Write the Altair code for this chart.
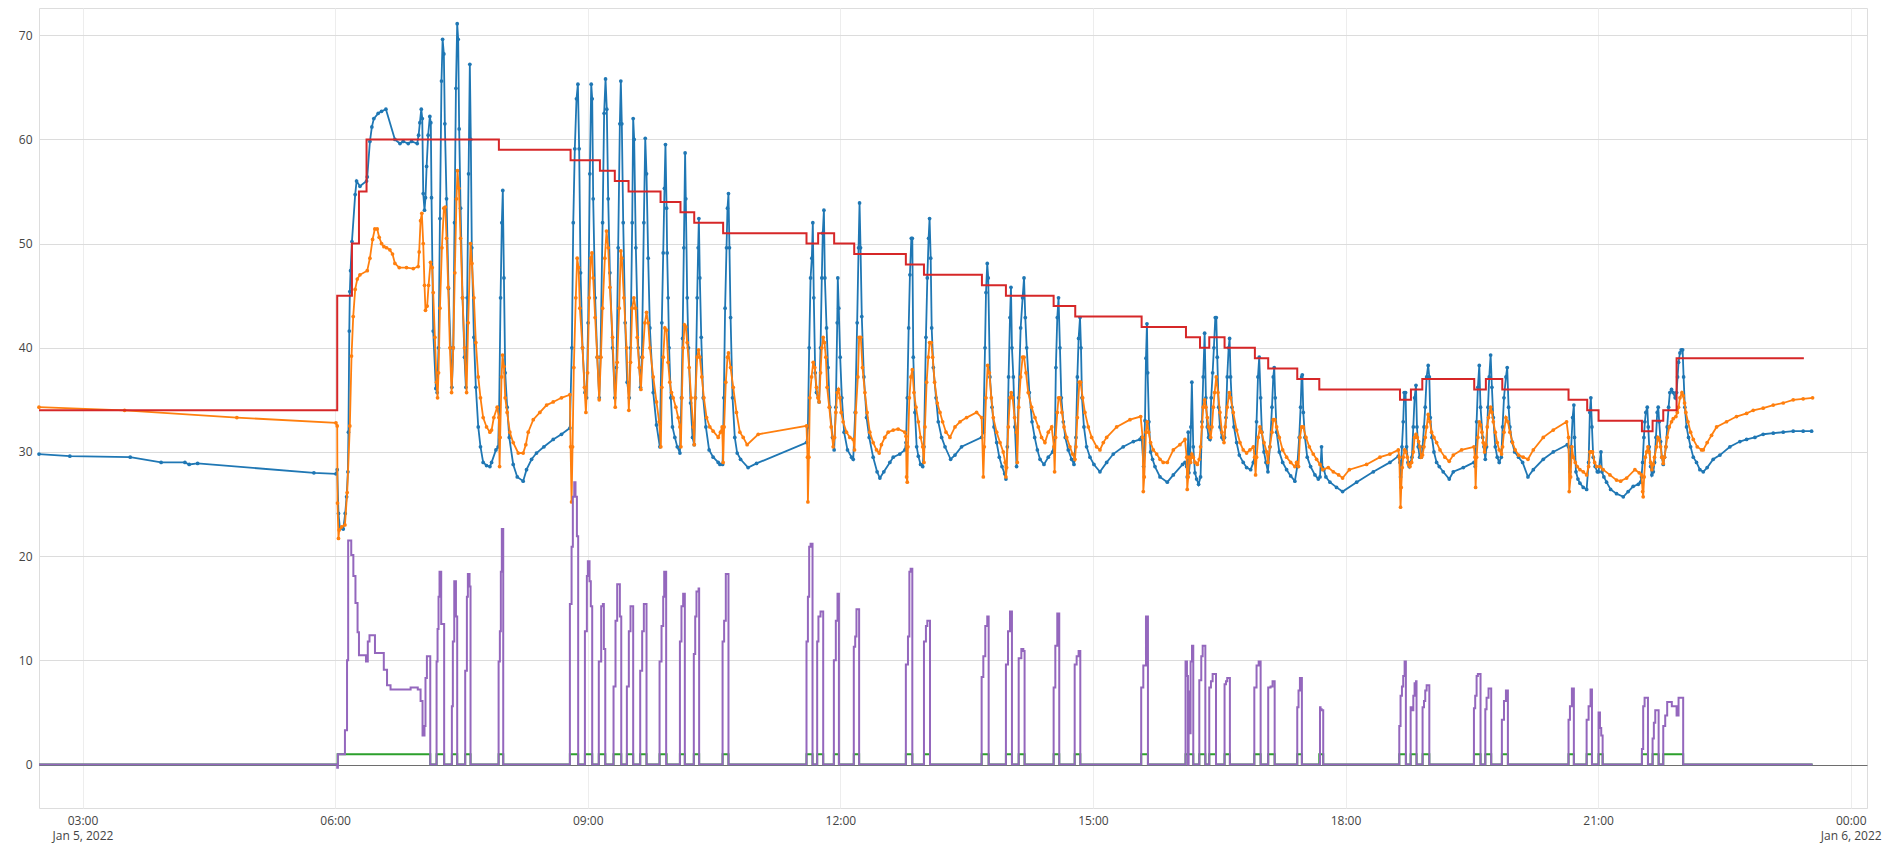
import pandas as pd
import altair as alt

# Times are minutes after midnight, Jan 5 2022.
BASE = pd.Timestamp("2022-01-05")

# Blue series (lines + markers)
BLUE = [
    (149, 29.8), (171, 29.6), (214, 29.5), (236, 29.0), (253, 29.0), (256, 28.8), (262, 28.9),
    (344.9, 28.0), (360.6, 27.9), (361.5, 28.3), (362.4, 24.1), (363.4, 22.7), (365.8, 22.6),
    (367.2, 24.1), (368.2, 25.7), (369.1, 28.1), (369.5, 31.9), (370.1, 41.6), (370.5, 45.4),
    (371.0, 47.4), (372.0, 50.2), (374.3, 54.7), (375.3, 56.0), (377.7, 55.5), (382.4, 56.0),
    (382.9, 56.4), (384.8, 59.8), (386.2, 61.2), (387.6, 62.0), (390.7, 62.5), (393.1, 62.7),
    (396.2, 62.9), (402.6, 60.0), (406.2, 59.6), (408.5, 59.8), (412.1, 59.6), (414.5, 59.8),
    (418.5, 59.6), (419.5, 60.4), (420.4, 61.6), (421.4, 62.9), (422.1, 62.0), (422.8, 54.8),
    (423.7, 53.2), (424.4, 54.4), (425.2, 57.4), (426.3, 60.4), (427.5, 62.2), (428.2, 61.6),
    (428.7, 54.4), (429.9, 41.6), (431.8, 36.1), (432.7, 35.7), (433.7, 40.0), (434.7, 52.4),
    (435.8, 65.6), (436.6, 69.6), (437.5, 68.2), (438.2, 61.5), (439.4, 54.3), (440.8, 45.7),
    (442.3, 40.0), (443.2, 36.2), (444.2, 40.0), (445.1, 52.0), (446.1, 64.9), (447.0, 71.1),
    (447.7, 69.6), (448.4, 61.0), (449.4, 53.4), (450.8, 44.8), (452.2, 39.1), (453.2, 36.2),
    (454.1, 44.8), (455.1, 56.7), (456.0, 67.2), (456.7, 60.0), (457.4, 49.6), (458.9, 41.0),
    (460.3, 36.2), (462.0, 32.4), (463.6, 30.5), (465.5, 29.0), (467.9, 28.7), (470.3, 28.6),
    (471.5, 29.0), (474.6, 30.2), (476.2, 30.5), (476.9, 34.3), (477.9, 44.8), (478.8, 52.0),
    (479.5, 55.1), (480.3, 46.7), (481.2, 37.6), (482.6, 34.3), (484.1, 31.4), (486.9, 28.8),
    (489.8, 27.6), (494.0, 27.2), (496.4, 28.3), (500.0, 29.3), (503.5, 29.9), (508.8, 30.5),
    (515.4, 31.2), (521.3, 31.7), (527.3, 32.3), (528.7, 40.0), (529.7, 52.0), (530.8, 59.1),
    (532.0, 63.9), (533.0, 65.3), (533.9, 59.1), (534.9, 47.2), (536.3, 40.0), (538.0, 35.7),
    (539.2, 35.2), (540.3, 42.4), (541.5, 56.7), (542.5, 65.3), (543.2, 63.9), (543.9, 54.3),
    (545.3, 44.8), (546.8, 39.1), (548.2, 35.2), (549.1, 39.1), (550.6, 52.0), (551.7, 62.5),
    (552.7, 65.8), (553.6, 62.9), (554.6, 54.3), (555.8, 47.2), (557.7, 40.0), (559.3, 35.2),
    (560.5, 38.1), (561.7, 49.6), (562.9, 61.5), (563.6, 65.6), (564.3, 61.5), (565.3, 52.0),
    (566.7, 42.4), (568.1, 36.7), (569.6, 35.2), (570.5, 40.0), (571.7, 52.0), (572.4, 62.0),
    (573.1, 60.0), (574.3, 49.6), (576.0, 40.0), (577.6, 36.2), (578.6, 39.1), (580.0, 52.0),
    (581.0, 60.1), (581.9, 56.7), (583.1, 48.6), (584.3, 41.9), (586.7, 35.7), (589.0, 32.6),
    (591.4, 30.5), (592.8, 42.4), (593.8, 49.1), (594.7, 55.3), (595.4, 59.5), (596.2, 53.4),
    (596.6, 49.1), (597.3, 44.8), (598.0, 40.0), (599.2, 35.2), (600.4, 32.4), (602.1, 31.4),
    (603.8, 30.5), (605.7, 29.9), (606.8, 35.2), (607.6, 40.9), (608.5, 49.6), (609.4, 58.7),
    (609.9, 54.3), (610.9, 44.8), (611.8, 40.0), (613.3, 34.7), (614.7, 31.4), (615.9, 30.7),
    (616.8, 35.2), (618.0, 44.8), (618.7, 49.6), (619.2, 52.4), (619.9, 46.7), (620.9, 41.0),
    (622.3, 35.2), (624.2, 32.4), (626.5, 30.2), (629.4, 29.5), (633.0, 29.0), (634.2, 28.8),
    (636.1, 28.8), (637.0, 35.2), (637.9, 43.8), (638.9, 49.6), (639.6, 53.4), (640.3, 54.8),
    (641.0, 49.6), (641.8, 42.9), (643.2, 35.2), (644.8, 31.4), (646.5, 29.9), (648.9, 29.3),
    (654.3, 28.5), (660.3, 28.9), (695.9, 30.9), (696.9, 32.4), (697.8, 40.0), (698.8, 46.7),
    (699.7, 48.6), (700.4, 52.0), (701.1, 44.8), (702.1, 37.6), (703.0, 35.7), (704.9, 34.8),
    (705.9, 40.0), (706.8, 46.7), (707.5, 51.0), (708.3, 53.2), (709.0, 46.7), (710.2, 41.9),
    (711.3, 38.1), (712.5, 34.3), (714.4, 31.4), (715.6, 30.2), (716.8, 34.3), (717.8, 42.4),
    (718.2, 46.7), (718.9, 43.8), (719.9, 39.1), (721.1, 35.2), (722.7, 31.9), (725.1, 30.2),
    (728.0, 29.5), (729.2, 29.3), (730.6, 33.8), (732.0, 42.4), (733.0, 49.6), (733.7, 53.9),
    (734.4, 49.6), (735.3, 43.0), (736.8, 37.2), (738.7, 33.3), (740.6, 31.4), (743.4, 29.5),
    (746.2, 28.1), (748.2, 27.5), (751.0, 28.1), (755.3, 29.0), (757.7, 29.5), (762.4, 29.8),
    (766.0, 30.2), (766.8, 30.9), (767.7, 35.2), (768.7, 41.9), (769.6, 47.0), (770.6, 50.5),
    (771.3, 50.5), (772.0, 39.1), (773.2, 33.8), (774.4, 30.5), (775.6, 29.6), (777.2, 28.8),
    (778.7, 28.6), (779.6, 30.5), (781.0, 41.0), (782.0, 46.7), (782.9, 50.5), (783.6, 52.4),
    (784.4, 48.6), (785.1, 41.9), (786.3, 38.1), (788.2, 35.2), (789.8, 32.9), (792.2, 31.4),
    (794.6, 30.5), (798.6, 29.3), (801.7, 29.7), (806.4, 30.5), (820.7, 31.4), (821.9, 31.9),
    (823.1, 40.0), (823.8, 45.3), (824.7, 48.1), (825.4, 46.7), (826.6, 37.2), (828.1, 34.3),
    (829.5, 32.4), (831.4, 30.9), (833.3, 29.5), (835.2, 28.6), (837.1, 27.9), (838.0, 27.4),
    (839.0, 30.5), (839.9, 37.2), (840.9, 42.9), (841.6, 45.8), (842.3, 40.0), (843.3, 37.2),
    (844.4, 32.4), (845.6, 28.6), (847.0, 35.2), (848.5, 41.9), (849.9, 44.8), (850.9, 46.7),
    (851.8, 42.9), (852.8, 40.0), (854.7, 35.7), (856.6, 32.9), (858.5, 31.4), (860.4, 30.2),
    (862.3, 29.3), (865.1, 28.8), (868.2, 29.5), (871.3, 30.0), (872.9, 31.4), (873.6, 38.1),
    (874.6, 42.9), (875.5, 44.8), (876.5, 40.0), (877.5, 35.2), (878.9, 32.9), (880.3, 31.4),
    (882.4, 30.2), (884.8, 29.3), (886.5, 28.8), (887.9, 31.4), (888.9, 37.2), (889.8, 40.9),
    (890.8, 42.9), (891.5, 40.0), (892.2, 35.2), (893.6, 32.4), (895.5, 30.5), (897.9, 29.5),
    (900.7, 28.8), (905.0, 28.1), (909.8, 29.0), (914.5, 29.8), (921.6, 30.5), (928.8, 31.0),
    (933.5, 31.2), (934.7, 31.4), (936.1, 28.6), (937.1, 33.0), (937.8, 39.0), (938.5, 42.3),
    (939.0, 37.6), (939.9, 32.9), (941.1, 30.0), (942.5, 29.3), (944.2, 28.6), (947.8, 27.6),
    (953.0, 27.1), (957.3, 27.8), (963.9, 28.8), (965.6, 29.0), (966.8, 28.6), (967.2, 27.6),
    (967.9, 31.9), (968.4, 28.0), (969.1, 29.0), (969.8, 32.4), (970.5, 36.7), (971.5, 30.5),
    (972.7, 28.0), (973.9, 27.4), (975.3, 26.9), (976.7, 27.6), (977.7, 32.9), (978.6, 37.2),
    (979.6, 41.4), (980.5, 35.2), (981.5, 32.4), (982.4, 31.4), (983.4, 31.2), (984.3, 35.2),
    (985.3, 37.6), (986.2, 40.0), (987.2, 42.9), (987.9, 42.9), (988.6, 39.1), (989.6, 34.3),
    (990.5, 32.4), (991.9, 31.4), (992.9, 31.2), (993.8, 31.4), (994.8, 33.3), (995.7, 37.2),
    (996.7, 40.0), (997.4, 40.9), (998.1, 37.2), (999.1, 34.3), (1000.5, 32.4), (1002.4, 30.9),
    (1004.3, 29.7), (1007.1, 29.0), (1009.5, 28.5), (1012.4, 28.3), (1014.3, 29.0), (1015.7, 29.9),
    (1016.6, 32.9), (1017.6, 37.2), (1018.5, 39.1), (1019.5, 35.2), (1020.4, 31.9), (1021.9, 30.0),
    (1023.3, 29.0), (1024.7, 28.1), (1026.1, 30.5), (1027.6, 34.3), (1028.5, 37.2), (1029.2, 38.1),
    (1029.9, 35.2), (1030.9, 31.9), (1032.8, 30.0), (1035.2, 29.0), (1038.0, 28.3), (1040.9, 27.7),
    (1043.9, 27.2), (1045.6, 28.6), (1047.0, 31.4), (1048.0, 34.3), (1048.7, 37.2), (1049.2, 37.4),
    (1049.9, 33.8), (1051.1, 31.4), (1052.7, 29.5), (1055.1, 28.6), (1058.2, 27.8), (1060.6, 27.4),
    (1061.8, 27.6), (1062.9, 30.5), (1063.6, 28.5), (1064.6, 28.3), (1066.0, 27.6), (1068.9, 27.1),
    (1073.6, 26.6), (1077.9, 26.2), (1087.9, 27.1), (1099.8, 28.1), (1111.6, 29.0), (1117.6, 29.6),
    (1118.8, 29.0), (1119.2, 27.6), (1120.2, 30.5), (1121.1, 32.9), (1121.8, 35.7), (1122.8, 35.7),
    (1123.5, 30.5), (1124.5, 29.0), (1125.4, 28.6), (1126.4, 29.0), (1127.3, 29.5), (1128.3, 32.4),
    (1129.2, 35.2), (1130.2, 36.4), (1130.9, 32.4), (1131.8, 30.5), (1132.8, 29.5), (1134.0, 29.5),
    (1134.9, 30.5), (1135.9, 32.4), (1136.8, 34.3), (1137.8, 37.2), (1138.9, 38.3), (1139.7, 37.2),
    (1140.4, 33.3), (1141.6, 31.4), (1143.0, 30.0), (1144.9, 29.0), (1146.8, 28.6), (1149.6, 28.1),
    (1153.9, 27.4), (1156.8, 28.1), (1163.9, 28.5), (1171.5, 29.0), (1172.4, 28.6), (1173.4, 32.9),
    (1174.3, 36.2), (1175.3, 38.3), (1176.2, 34.3), (1177.7, 31.4), (1178.6, 30.5), (1179.6, 29.3),
    (1180.5, 30.5), (1181.5, 34.3), (1182.4, 37.2), (1183.4, 39.3), (1184.3, 36.2), (1185.3, 33.3),
    (1186.7, 30.5), (1188.1, 29.5), (1189.5, 29.0), (1191.0, 29.5), (1191.9, 32.4), (1192.9, 35.2),
    (1194.3, 37.2), (1195.2, 38.1), (1196.2, 34.3), (1197.1, 32.4), (1198.6, 31.0), (1200.5, 30.0),
    (1203.3, 29.5), (1206.2, 29.0), (1210.0, 27.6), (1213.8, 28.3), (1220.9, 29.3), (1228.0, 30.0),
    (1238.0, 30.7), (1238.9, 30.5), (1239.9, 28.1), (1240.8, 30.5), (1241.8, 33.3), (1242.7, 34.5),
    (1243.2, 31.4), (1244.2, 28.1), (1245.6, 27.4), (1247.0, 27.0), (1249.4, 26.6), (1251.8, 26.4),
    (1253.2, 29.0), (1254.1, 33.8), (1254.8, 35.2), (1255.6, 32.4), (1256.5, 29.5), (1257.9, 28.6),
    (1259.4, 28.1), (1260.3, 28.1), (1262.0, 30.0), (1262.7, 28.1), (1264.1, 27.6), (1266.0, 27.1),
    (1268.9, 26.4), (1273.1, 26.0), (1277.9, 25.7), (1281.4, 26.2), (1285.0, 26.7), (1288.6, 26.9),
    (1290.2, 27.1), (1290.9, 27.6), (1291.7, 29.0), (1292.6, 31.4), (1293.3, 32.9), (1294.0, 33.8),
    (1295.0, 34.3), (1295.7, 32.4), (1296.4, 30.5), (1297.4, 28.6), (1298.3, 27.8), (1299.3, 28.1),
    (1300.2, 29.0), (1301.2, 31.4), (1302.1, 33.8), (1302.8, 34.3), (1303.5, 32.9), (1304.5, 31.0),
    (1305.4, 29.5), (1306.4, 28.8), (1307.3, 29.5), (1308.3, 30.5), (1309.2, 32.4), (1310.2, 34.3),
    (1311.1, 35.7), (1312.3, 36.0), (1313.5, 35.7), (1314.9, 35.2), (1315.9, 35.7), (1316.6, 37.2),
    (1317.3, 38.6), (1318.3, 39.5), (1319.2, 39.8), (1320.2, 39.8), (1320.9, 37.2), (1321.8, 34.3),
    (1323.0, 32.4), (1324.4, 31.4), (1325.9, 30.5), (1327.8, 29.5), (1330.1, 29.0), (1332.5, 28.3),
    (1334.9, 28.1), (1337.7, 28.5), (1342.0, 29.3), (1346.8, 29.7), (1353.9, 30.5), (1361.0, 31.0),
    (1365.8, 31.2), (1371.7, 31.4), (1377.6, 31.7), (1384.8, 31.8), (1391.9, 31.9), (1399.0, 32.0),
    (1406.1, 32.0), (1412.1, 32.0),
]

# Orange series (lines + markers)
ORANGE = [
    (149, 34.3), (210, 34.0), (290, 33.3), (360.6, 32.8), (361.5, 32.5), (361.7, 25.1),
    (362.4, 21.7), (362.9, 22.5), (364.6, 22.8), (367.0, 23.0), (368.6, 26.1), (370.5, 32.5),
    (371.7, 39.2), (372.9, 43.0), (374.3, 45.6), (375.8, 46.6), (377.7, 47.0), (382.9, 47.4),
    (384.8, 48.6), (386.7, 50.4), (388.3, 51.4), (390.0, 51.4), (391.4, 50.6), (393.1, 50.0),
    (394.8, 49.7), (396.7, 49.6), (399.0, 49.4), (400.9, 49.0), (402.6, 48.1), (405.7, 47.7),
    (410.9, 47.7), (415.7, 47.6), (419.2, 47.8), (419.9, 49.2), (420.9, 52.2), (421.8, 52.9),
    (422.8, 50.0), (423.7, 46.0), (424.4, 43.6), (425.6, 44.0), (426.6, 46.0), (428.0, 48.2),
    (429.2, 47.7), (429.9, 45.3), (431.1, 41.0), (432.3, 36.7), (433.0, 35.2), (433.7, 37.6),
    (434.7, 43.8), (436.1, 49.6), (437.5, 53.4), (438.5, 53.5), (439.4, 50.5), (440.6, 45.8),
    (441.8, 40.0), (443.0, 35.7), (444.2, 40.0), (445.3, 47.2), (446.5, 54.3), (447.2, 57.0),
    (448.2, 55.3), (449.4, 50.5), (450.8, 44.8), (452.2, 40.0), (453.7, 35.7), (454.8, 42.4),
    (456.5, 50.0), (457.5, 48.1), (458.9, 44.8), (460.3, 40.5), (462.0, 37.2), (463.6, 35.2),
    (465.5, 33.3), (467.9, 32.4), (470.3, 31.9), (471.5, 32.1), (473.1, 33.3), (475.5, 34.3),
    (476.7, 33.3), (477.2, 28.6), (477.6, 31.4), (478.6, 37.2), (479.3, 39.3), (480.3, 38.2),
    (481.2, 35.2), (482.6, 33.8), (484.5, 31.9), (486.9, 30.9), (490.5, 29.9), (494.0, 29.9),
    (495.9, 30.7), (497.6, 31.9), (501.2, 33.1), (505.9, 33.8), (510.7, 34.5), (515.4, 34.8),
    (521.3, 35.2), (527.3, 35.5), (527.8, 30.5), (528.5, 25.2), (529.2, 30.5), (530.1, 38.1),
    (531.5, 44.8), (532.5, 48.6), (533.5, 47.7), (534.4, 43.8), (536.3, 40.0), (537.7, 36.2),
    (538.7, 33.8), (539.9, 37.6), (541.1, 44.8), (542.2, 48.6), (543.0, 49.1), (543.9, 46.7),
    (545.3, 42.9), (546.8, 39.1), (548.2, 35.0), (549.4, 39.1), (550.6, 43.8), (552.2, 48.6),
    (553.4, 51.2), (554.6, 49.6), (555.8, 45.8), (557.7, 41.0), (559.6, 34.3), (561.0, 38.6),
    (562.4, 43.8), (563.6, 49.3), (564.3, 48.6), (565.8, 44.8), (567.7, 40.0), (569.3, 34.0),
    (570.5, 38.6), (571.7, 43.8), (572.9, 44.8), (574.1, 43.8), (575.3, 41.0), (576.7, 38.1),
    (577.9, 36.0), (579.1, 39.1), (580.7, 42.4), (581.9, 43.4), (583.1, 42.4), (584.3, 40.0),
    (586.7, 37.2), (589.0, 34.8), (590.9, 32.9), (592.1, 30.5), (592.8, 36.2), (593.8, 39.1),
    (595.0, 41.9), (596.2, 41.7), (597.3, 38.6), (598.5, 36.7), (599.7, 35.7), (600.9, 35.2),
    (602.8, 34.3), (604.5, 33.3), (605.7, 32.4), (606.4, 30.5), (607.1, 35.2), (608.0, 40.0),
    (609.0, 42.2), (609.9, 42.0), (610.9, 40.5), (612.3, 38.1), (613.7, 35.2), (615.2, 32.4),
    (615.9, 30.7), (616.6, 35.2), (618.0, 39.1), (619.0, 39.8), (619.9, 39.1), (621.3, 37.2),
    (622.8, 35.2), (624.7, 33.3), (627.0, 32.4), (629.4, 32.0), (633.0, 31.4), (634.6, 31.9),
    (635.8, 32.4), (636.5, 29.0), (637.2, 32.4), (638.4, 36.7), (639.6, 39.1), (640.3, 39.5),
    (641.8, 38.1), (643.7, 36.2), (646.0, 33.8), (648.4, 31.9), (650.8, 31.4), (653.6, 30.7),
    (661.5, 31.7), (695.9, 32.5), (696.6, 29.5), (696.9, 25.2), (697.6, 29.5), (698.3, 35.2),
    (699.5, 37.2), (700.7, 38.6), (701.8, 38.1), (703.0, 36.2), (704.0, 35.2), (704.9, 34.8),
    (705.9, 37.6), (706.8, 40.0), (707.8, 41.0), (708.7, 40.5), (709.7, 39.1), (710.6, 36.2),
    (712.1, 34.3), (713.5, 32.4), (714.9, 30.5), (715.9, 31.4), (716.8, 33.8), (717.8, 35.7),
    (718.7, 36.0), (719.7, 35.2), (720.6, 33.8), (722.0, 32.9), (724.4, 31.9), (726.8, 31.4),
    (729.2, 31.2), (730.1, 30.2), (731.0, 33.8), (732.5, 37.2), (733.4, 41.0), (734.6, 41.0),
    (735.8, 38.1), (737.5, 35.7), (739.1, 33.8), (741.0, 31.9), (743.4, 30.9), (745.8, 30.2),
    (747.7, 29.9), (749.3, 30.7), (751.7, 31.4), (754.1, 31.9), (757.7, 32.1), (761.2, 32.2),
    (766.0, 31.9), (766.8, 31.5), (767.2, 27.6), (767.7, 27.1), (768.2, 30.5), (769.2, 35.2),
    (770.3, 37.2), (771.3, 37.9), (772.5, 35.7), (773.9, 34.3), (775.6, 32.9), (777.2, 31.4),
    (778.7, 30.5), (779.6, 29.0), (780.3, 32.4), (781.5, 36.7), (782.7, 39.1), (783.6, 40.5),
    (784.8, 40.5), (785.8, 39.1), (787.2, 36.7), (789.1, 34.7), (791.0, 33.8), (792.9, 32.9),
    (795.3, 31.9), (798.1, 31.4), (801.7, 32.4), (805.3, 32.9), (810.0, 33.3), (817.1, 33.8),
    (820.7, 33.3), (821.9, 27.6), (822.6, 30.5), (823.8, 35.2), (825.0, 38.3), (826.2, 37.6),
    (827.6, 35.2), (829.0, 33.3), (831.4, 31.9), (833.8, 30.9), (836.1, 30.0), (837.5, 29.0),
    (838.0, 27.6), (838.5, 28.5), (839.7, 32.4), (840.9, 35.2), (841.8, 35.7), (842.8, 35.2),
    (844.2, 33.3), (845.6, 31.9), (846.1, 29.0), (847.1, 34.3), (848.5, 37.2), (849.9, 39.1),
    (850.9, 39.1), (852.3, 37.6), (853.9, 35.7), (856.3, 34.3), (858.7, 33.3), (861.1, 32.4),
    (863.4, 31.4), (865.8, 30.9), (868.2, 31.9), (870.6, 32.4), (872.2, 30.5), (872.7, 28.1),
    (873.4, 31.4), (874.6, 33.8), (875.5, 35.2), (876.5, 35.2), (877.9, 33.8), (879.4, 32.4),
    (881.3, 31.4), (883.6, 30.5), (885.5, 29.8), (887.2, 29.3), (887.9, 30.5), (888.9, 33.3),
    (890.3, 36.7), (891.2, 36.7), (892.7, 35.2), (894.3, 33.8), (896.7, 32.4), (899.1, 31.4),
    (902.6, 30.5), (905.0, 30.2), (907.4, 30.9), (909.8, 31.4), (916.9, 32.4), (926.4, 33.1),
    (934.0, 33.4), (935.4, 31.4), (935.9, 26.2), (936.6, 27.6), (937.8, 31.9), (938.7, 32.9),
    (939.7, 31.9), (941.1, 30.9), (943.0, 30.2), (945.4, 29.8), (947.8, 29.3), (950.1, 29.0),
    (953.0, 29.0), (957.3, 30.2), (962.0, 30.7), (965.6, 31.2), (966.8, 29.5), (967.2, 26.4),
    (967.9, 27.6), (968.6, 29.5), (969.6, 29.0), (970.5, 29.8), (971.5, 29.5), (972.9, 29.0),
    (974.4, 28.8), (975.8, 29.3), (976.7, 30.5), (977.7, 32.4), (978.6, 34.3), (979.6, 35.0),
    (980.5, 34.3), (981.5, 33.3), (982.4, 32.4), (983.9, 31.4), (984.8, 32.4), (985.8, 34.3),
    (986.7, 35.7), (987.9, 37.2), (989.1, 35.7), (990.5, 33.8), (991.9, 31.9), (993.4, 30.9),
    (994.3, 32.4), (995.7, 34.3), (997.2, 35.7), (998.1, 35.2), (1000.0, 33.8), (1002.4, 32.1),
    (1004.8, 30.9), (1007.1, 30.2), (1009.5, 29.9), (1011.9, 30.2), (1014.3, 30.5), (1015.2, 29.5),
    (1015.9, 27.8), (1016.6, 29.5), (1017.8, 31.4), (1019.0, 32.4), (1020.2, 31.9), (1021.9, 30.9),
    (1023.8, 30.0), (1024.7, 29.0), (1026.1, 30.5), (1027.6, 31.9), (1028.5, 33.1), (1029.7, 33.1),
    (1030.9, 32.4), (1032.8, 31.4), (1035.2, 30.2), (1038.0, 29.5), (1040.9, 29.0), (1043.9, 28.6),
    (1045.1, 29.0), (1046.5, 28.6), (1047.5, 31.4), (1048.7, 32.4), (1049.9, 32.4), (1051.8, 31.4),
    (1054.2, 30.5), (1057.0, 29.8), (1059.4, 29.3), (1061.8, 28.8), (1063.7, 28.3), (1067.7, 28.5),
    (1071.3, 28.1), (1075.1, 27.8), (1077.9, 27.5), (1082.7, 28.3), (1095.0, 28.8), (1104.5, 29.5),
    (1111.6, 29.8), (1117.6, 30.2), (1118.3, 29.5), (1119.2, 24.7), (1119.7, 26.6), (1120.4, 28.5),
    (1121.1, 29.5), (1122.1, 30.2), (1123.0, 30.0), (1124.0, 29.5), (1124.9, 28.8), (1125.9, 28.6),
    (1127.1, 29.0), (1128.3, 30.0), (1129.2, 31.4), (1130.2, 31.7), (1131.1, 31.4), (1132.1, 31.0),
    (1133.0, 30.5), (1134.0, 29.5), (1134.9, 29.7), (1135.9, 30.5), (1136.8, 31.4), (1137.8, 32.4),
    (1138.9, 33.6), (1140.1, 32.9), (1141.3, 31.9), (1143.0, 31.4), (1144.9, 30.9), (1147.3, 30.2),
    (1150.8, 29.5), (1153.9, 29.1), (1156.8, 29.7), (1162.7, 30.2), (1171.5, 30.5), (1172.2, 29.5),
    (1172.7, 26.6), (1173.4, 29.5), (1174.3, 31.4), (1175.3, 32.9), (1176.2, 32.6), (1177.2, 31.9),
    (1178.1, 30.9), (1179.1, 30.0), (1180.0, 30.7), (1181.0, 32.4), (1181.9, 33.3), (1183.4, 34.3),
    (1184.3, 33.8), (1185.3, 32.9), (1186.7, 31.9), (1188.1, 30.9), (1189.5, 30.2), (1191.2, 29.8),
    (1191.9, 30.5), (1192.9, 31.9), (1194.3, 33.3), (1195.7, 32.9), (1197.1, 31.9), (1199.0, 30.9),
    (1200.9, 30.2), (1203.3, 29.7), (1206.6, 29.5), (1210.0, 29.3), (1213.8, 30.2), (1220.9, 31.4),
    (1228.0, 32.1), (1237.5, 32.9), (1238.9, 31.4), (1239.4, 26.2), (1240.4, 27.6), (1241.3, 30.5),
    (1242.3, 29.5), (1243.7, 29.0), (1245.1, 28.6), (1247.0, 28.3), (1249.4, 28.1), (1251.8, 27.8),
    (1253.2, 28.6), (1254.1, 30.0), (1255.1, 30.0), (1256.0, 30.0), (1257.5, 29.0), (1258.9, 28.6),
    (1261.3, 28.6), (1263.6, 28.3), (1268.4, 27.8), (1273.1, 27.3), (1276.0, 27.2), (1280.3, 27.5),
    (1286.2, 28.3), (1289.3, 28.0), (1290.9, 27.8), (1291.7, 26.2), (1292.1, 25.7), (1292.8, 27.6),
    (1293.6, 29.5), (1294.5, 30.0), (1295.5, 30.5), (1296.4, 30.0), (1297.4, 29.0), (1298.3, 28.3),
    (1299.3, 28.8), (1300.2, 29.5), (1301.6, 30.5), (1302.6, 31.4), (1303.5, 31.2), (1304.5, 30.5),
    (1305.4, 29.5), (1306.4, 28.9), (1307.3, 29.5), (1308.3, 30.5), (1309.2, 31.4), (1310.7, 32.4),
    (1312.3, 32.9), (1313.5, 33.2), (1315.4, 33.4), (1316.4, 33.8), (1317.3, 34.3), (1318.3, 35.2),
    (1319.7, 35.7), (1320.6, 35.4), (1321.6, 34.7), (1322.5, 33.8), (1324.0, 32.9), (1325.9, 31.9),
    (1327.8, 31.2), (1330.6, 30.5), (1333.7, 30.2), (1334.9, 30.2), (1337.7, 30.9), (1340.8, 31.6),
    (1344.4, 32.4), (1351.5, 32.9), (1358.6, 33.4), (1365.8, 33.7), (1370.5, 34.0), (1377.6, 34.2),
    (1384.8, 34.5), (1391.9, 34.7), (1399.0, 35.0), (1406.1, 35.1), (1412.8, 35.2),
]

# Red setpoint, step changes (minute, new value)
RED = [
    (149, 34), (361.5, 45), (372.0, 50), (377.0, 55), (382.4, 60), (476.7, 59), (527.8, 58),
    (548.7, 57), (559.3, 56), (569.1, 55), (591.9, 54), (606.1, 53), (615.9, 52), (636.5, 51),
    (695.9, 50), (704.2, 51), (715.6, 50), (729.9, 49), (766.7, 48), (779.6, 47), (820.9, 46),
    (838.0, 45), (872.0, 44), (887.4, 43), (934.7, 42), (966.3, 41), (976.3, 40), (982.9, 41),
    (993.8, 40), (1015.4, 39), (1024.9, 38), (1045.6, 37), (1061.3, 36), (1118.8, 35),
    (1126.6, 36), (1134.7, 37), (1171.7, 36), (1180.0, 37), (1191.7, 36), (1238.9, 35),
    (1252.2, 34), (1260.3, 33), (1291.2, 32), (1298.8, 33), (1306.4, 34), (1315.9, 39),
    (1406.6, 39),
]

# Purple series, step changes (minute, new value)
PURPLE = [
    (149, 0), (361.5, -0.3), (362.0, 1.0), (365.5, 1.0), (367.0, 3.3), (368.5, 10.0),
    (369.3, 21.5), (371.5, 20.1), (373.0, 18.1), (374.5, 15.5), (376.0, 12.7), (377.0, 10.5),
    (382.0, 9.9), (383.3, 11.8), (384.5, 12.4), (388.4, 10.7), (394.7, 9.1), (397.0, 7.6),
    (399.5, 7.2), (413.8, 7.4), (418.9, 7.2), (420.9, 6.1), (422.3, 2.8), (423.7, 3.7),
    (424.4, 8.3), (425.4, 10.4), (427.8, 0),
    (432.3, 9.9), (433.0, 13.0), (433.7, 16.1), (434.4, 18.5), (435.6, 13.5), (437.7, 0),
    (443.2, 5.6), (443.9, 11.8), (444.9, 17.6), (446.1, 14.2), (447.0, 0),
    (452.7, 9.0), (453.9, 16.1), (454.6, 18.3), (455.8, 17.1), (456.5, 0),
    (476.5, 9.9), (477.4, 12.8), (478.1, 18.5), (478.8, 22.6), (479.8, 0),
    (527.3, 15.4), (528.5, 20.9), (529.4, 25.7), (530.4, 27.1), (531.3, 25.7), (532.3, 21.9), (533.2, 0),
    (538.0, 12.8), (539.4, 18.1), (540.1, 19.5), (541.3, 17.6), (542.2, 15.2), (543.2, 0),
    (547.9, 9.9), (549.6, 15.2), (550.8, 15.4), (551.5, 11.1), (552.5, 0),
    (558.4, 7.5), (559.8, 13.8), (561.0, 17.3), (562.9, 14.2), (563.9, 0),
    (567.9, 7.5), (569.3, 12.8), (570.5, 15.2), (572.4, 0),
    (577.4, 9.0), (578.8, 12.8), (580.0, 15.4), (581.9, 0),
    (591.2, 9.9), (592.6, 13.3), (593.8, 16.1), (594.5, 18.5), (595.9, 0),
    (605.7, 11.8), (606.8, 15.2), (608.0, 16.4), (609.2, 0),
    (615.6, 10.6), (616.6, 14.2), (617.5, 16.6), (619.0, 16.9), (619.4, 0),
    (636.1, 11.8), (637.2, 13.8), (638.4, 18.3), (640.3, 0),
    (695.9, 11.8), (696.9, 16.1), (697.8, 20.9), (698.8, 21.2), (700.2, 0),
    (703.5, 11.8), (704.4, 14.2), (705.9, 14.7), (707.8, 0),
    (715.4, 10.0), (716.8, 13.8), (718.0, 16.4), (719.0, 0),
    (729.6, 11.3), (730.6, 12.3), (731.5, 14.9), (733.4, 0),
    (766.7, 9.6), (768.2, 12.3), (769.2, 18.5), (770.1, 18.8), (771.3, 0),
    (779.6, 11.8), (781.0, 13.3), (782.0, 13.8), (783.9, 0),
    (820.7, 8.4), (821.9, 10.4), (823.3, 13.3), (824.7, 14.2), (825.7, 0),
    (838.0, 9.6), (839.5, 12.8), (840.9, 14.7), (842.3, 0),
    (847.1, 10.2), (849.0, 11.1), (850.4, 10.9), (851.3, 0),
    (872.0, 7.4), (873.2, 11.4), (874.6, 14.5), (876.0, 0),
    (887.0, 9.6), (888.4, 10.4), (889.8, 10.9), (891.0, 0),
    (934.4, 7.4), (935.9, 9.5), (937.8, 14.2), (939.2, 0),
    (966.0, 9.9), (967.0, 8.5), (967.7, 0), (968.2, 7.0), (968.9, 3.0), (969.6, 9.9), (970.6, 11.4), (971.5, 0),
    (975.8, 8.1), (977.2, 10.4), (978.2, 11.4), (980.1, 0),
    (982.9, 7.4), (984.1, 8.0), (985.3, 8.7), (987.7, 0),
    (993.8, 7.7), (994.8, 8.0), (995.7, 8.3), (997.6, 0),
    (1015.0, 7.4), (1016.6, 9.5), (1018.1, 9.9), (1019.5, 0),
    (1024.9, 7.4), (1026.6, 7.5), (1028.0, 8.0), (1029.5, 0),
    (1045.6, 5.5), (1046.5, 7.1), (1047.5, 8.3), (1048.9, 0),
    (1061.8, 5.5), (1062.2, 5.3), (1063.0, 5.2), (1064.1, 0),
    (1118.3, 3.7), (1119.2, 6.6), (1120.2, 7.5), (1121.1, 8.5), (1122.1, 9.9), (1123.0, 0),
    (1126.4, 5.5), (1127.3, 5.2), (1128.3, 6.6), (1129.2, 7.8), (1130.2, 8.0), (1130.6, 0),
    (1134.9, 5.5), (1135.9, 6.1), (1136.8, 7.1), (1137.8, 7.6), (1139.7, 0),
    (1171.5, 5.4), (1172.4, 6.6), (1173.4, 8.5), (1174.3, 8.7), (1176.2, 0),
    (1179.6, 5.3), (1180.5, 6.4), (1181.9, 7.3), (1183.8, 0),
    (1191.4, 4.3), (1192.9, 6.1), (1194.3, 7.1), (1195.7, 0),
    (1238.9, 4.3), (1239.9, 5.6), (1241.3, 7.3), (1242.7, 0),
    (1251.8, 4.3), (1253.2, 5.6), (1254.6, 7.2), (1255.6, 0),
    (1260.3, 5.0), (1261.3, 3.5), (1262.2, 2.8), (1263.2, 0),
    (1291.2, 1.5), (1292.1, 5.6), (1293.1, 6.4), (1295.5, 0),
    (1298.8, 2.5), (1299.7, 4.0), (1300.7, 5.2), (1303.1, 0),
    (1306.4, 3.7), (1307.8, 4.7), (1309.2, 6.0), (1312.5, 5.6), (1315.9, 4.7), (1317.3, 6.4), (1320.6, 0),
    (1412.8, 0),
]

# Green on/off periods (start minute, end minute) where it sits at 1
GREEN_ON = [
    (361.8, 427.8), (432.3, 437.7), (443.2, 447.0), (452.7, 456.5), (476.5, 479.8),
    (527.3, 533.2), (538.0, 543.2), (547.9, 552.5), (558.4, 563.9), (567.9, 572.4),
    (577.4, 581.9), (591.2, 596.2), (605.7, 609.2), (615.6, 619.4), (636.1, 640.3),
    (695.9, 700.2), (703.5, 707.8), (715.4, 719.0), (729.6, 733.4), (766.7, 771.3),
    (779.6, 783.9), (820.7, 825.7), (838.0, 842.3), (847.1, 851.3), (872.0, 876.0),
    (887.0, 891.0), (934.4, 939.2), (966.0, 971.5), (975.8, 980.1), (982.9, 987.7),
    (993.8, 997.6), (1015.0, 1019.5), (1024.9, 1029.5), (1045.6, 1048.9), (1061.3, 1064.1),
    (1118.3, 1123.0), (1126.4, 1130.6), (1134.9, 1139.7), (1171.5, 1176.2), (1179.6, 1183.8),
    (1191.4, 1195.7), (1238.9, 1242.7), (1251.8, 1255.6), (1260.3, 1263.2), (1291.2, 1295.5),
    (1298.8, 1303.1), (1306.4, 1320.6),
]
GREEN_SPAN = (149, 1412.8)

Y_TICKS = [0, 10, 20, 30, 40, 50, 60, 70]
X_TICK_HOURS = [3, 6, 9, 12, 15, 18, 21, 24]


def frame(points):
    df = pd.DataFrame(points, columns=["minute", "value"])
    df["time"] = BASE + pd.to_timedelta(df["minute"], unit="m")
    return df[["time", "value"]]


green_points = [(GREEN_SPAN[0], 0)]
for start, end in GREEN_ON:
    green_points += [(start, 1), (end, 0)]
green_points.append((GREEN_SPAN[1], 0))

x_ticks = [
    alt.DateTime(year=2022, month=1, date=5 + h // 24, hours=h % 24) for h in X_TICK_HOURS
]

x_enc = alt.X(
    "time:T",
    title=None,
    scale=alt.Scale(domain=[
        alt.DateTime(year=2022, month=1, date=5, hours=2, minutes=29),
        alt.DateTime(year=2022, month=1, date=6, hours=0, minutes=11, seconds=35),
    ]),
    axis=alt.Axis(
        values=x_ticks,
        labelExpr="(hours(datum.value) == 3 || hours(datum.value) == 0) ? "
                  "[timeFormat(datum.value, '%H:%M'), timeFormat(datum.value, '%b %-d, %Y')] : "
                  "timeFormat(datum.value, '%H:%M')",
        grid=True, gridColor="#ededed", gridWidth=1,
        domain=False, ticks=False, tickSize=0,
        labelPadding=7, labelLineHeight=15, labelOverlap=False, labelFlush=False,
        labelFont="Open Sans", labelFontSize=12, labelColor="#444",
    ),
)

y_enc = alt.Y(
    "value:Q",
    title=None,
    scale=alt.Scale(domain=[-4.17, 72.61], nice=False, zero=False),
    axis=alt.Axis(
        values=Y_TICKS,
        grid=True,
        gridColor=alt.condition("datum.value === 0", alt.value("#6e6e6e"), alt.value("#dcdcdc")),
        gridWidth=1,
        domain=False, ticks=False, tickSize=0, labelPadding=7,
        labelFont="Open Sans", labelFontSize=12, labelColor="#444",
    ),
)

marker_line = dict(strokeWidth=1.8)

blue = alt.Chart(frame(BLUE)).mark_line(
    color="#1f77b4", point=alt.OverlayMarkDef(color="#1f77b4", size=14, filled=True, opacity=1),
    **marker_line,
).encode(x=x_enc, y=y_enc)

orange = alt.Chart(frame(ORANGE)).mark_line(
    color="#ff7f0e", point=alt.OverlayMarkDef(color="#ff7f0e", size=14, filled=True, opacity=1),
    **marker_line,
).encode(x=x_enc, y=y_enc)

red = alt.Chart(frame(RED)).mark_line(
    color="#d62728", strokeWidth=2, interpolate="step-after"
).encode(x=x_enc, y=y_enc)

green = alt.Chart(frame(green_points)).mark_line(
    color="#2ca02c", strokeWidth=2, interpolate="step-after"
).encode(x=x_enc, y=y_enc)

purple = alt.Chart(frame(PURPLE)).mark_line(
    color="#9467bd", strokeWidth=2, interpolate="step-after"
).encode(x=x_enc, y=y_enc)

chart = alt.layer(blue, orange, red, green, purple).properties(
    width=1828,
    height=800,
    autosize=alt.AutoSizeParams(type="none"),
    padding={"left": 31, "top": 0, "right": 16, "bottom": 37},
).configure_view(stroke=None).configure(background="white")

chart.save("out.html", embed_options={"renderer": "svg", "actions": False})
